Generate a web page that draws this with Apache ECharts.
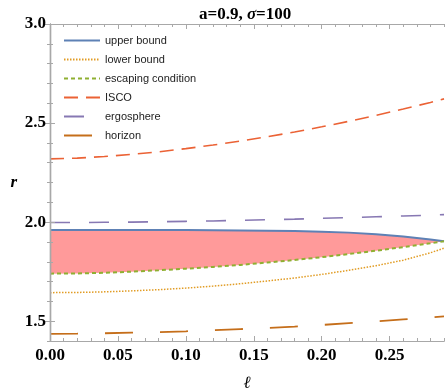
<!DOCTYPE html>
<html>
<head>
<meta charset="utf-8">
<script src="https://cdn.jsdelivr.net/npm/echarts@6/dist/echarts.min.js"></script>
<style>
html, body { margin: 0; padding: 0; background: #fff; }
#chart { width: 445px; height: 389px; }
</style>
</head>
<body>
<div id="chart"></div>
<script>
// sample points along ℓ
const ell = [0, 0.02, 0.04, 0.06, 0.08, 0.10, 0.12, 0.14, 0.16, 0.18, 0.20, 0.22, 0.24, 0.26, 0.28, 0.29];

// curves
const upperBound = [1.960, 1.960, 1.960, 1.960, 1.960, 1.960, 1.959, 1.958, 1.957, 1.955, 1.952, 1.947, 1.939, 1.927, 1.912, 1.903];
const lowerBound = [1.644, 1.645, 1.648, 1.653, 1.659, 1.667, 1.677, 1.689, 1.703, 1.718, 1.736, 1.757, 1.780, 1.808, 1.845, 1.869];
const escaping   = [1.740, 1.741, 1.744, 1.750, 1.757, 1.765, 1.774, 1.784, 1.796, 1.809, 1.823, 1.839, 1.856, 1.874, 1.893, 1.903];
const isco       = [2.319, 2.323, 2.331, 2.342, 2.355, 2.371, 2.389, 2.409, 2.431, 2.455, 2.481, 2.509, 2.539, 2.571, 2.604, 2.622];
const ergosphere = [1.998, 1.998, 1.999, 2.000, 2.002, 2.004, 2.006, 2.009, 2.012, 2.015, 2.019, 2.023, 2.027, 2.031, 2.035, 2.038];
const horizon    = [1.436, 1.437, 1.439, 1.442, 1.445, 1.449, 1.454, 1.460, 1.466, 1.473, 1.481, 1.490, 1.499, 1.509, 1.519, 1.524];

// ticks
const xMajorTicks = [0, 0.05, 0.10, 0.15, 0.20, 0.25];
const yMajorTicks = [1.5, 2.0, 2.5, 3.0];

const X_MIN = 0, X_MAX = 0.29;
const Y_MIN = 1.4, Y_MAX = 3.0;

function minorTicks(from, to, step, majors) {
    const out = [];
    for (let i = 0; from + i * step <= to + 1e-9; i++) {
        const v = +(from + i * step).toFixed(4);
        if (!majors.some(m => Math.abs(m - v) < 1e-9)) out.push(v);
    }
    return out;
}
const xMinorTicks = minorTicks(X_MIN, X_MAX, 0.01, xMajorTicks);
const yMinorTicks = minorTicks(Y_MIN, Y_MAX, 0.1, yMajorTicks);

const frameColor = '#a8a8a8';
const serifBold = { fontFamily: 'Liberation Serif', fontWeight: 'bold', color: '#000' };

function frameAxis(position, min, max, ticks, len, label) {
    return {
        type: 'value',
        position: position,
        min: min,
        max: max,
        z: 5,
        splitLine: { show: false },
        axisLine: { show: true, lineStyle: { color: frameColor, width: 1.2 } },
        axisTick: { show: true, inside: true, length: len, customValues: ticks,
                    lineStyle: { color: frameColor, width: 1 } },
        axisLabel: label ? label : { show: false }
    };
}

const xAxes = [
    Object.assign(frameAxis('bottom', X_MIN, X_MAX, xMajorTicks, 5, {
        show: true, customValues: xMajorTicks, margin: 6,
        formatter: v => v.toFixed(2),
        fontSize: 17, ...serifBold
    }), {
        name: 'ℓ', nameLocation: 'middle', nameGap: 34,
        nameTextStyle: { fontFamily: 'Liberation Serif', fontStyle: 'italic', fontSize: 17, color: '#000' }
    }),
    frameAxis('bottom', X_MIN, X_MAX, xMinorTicks, 3),
    frameAxis('top', X_MIN, X_MAX, xMajorTicks, 5),
    frameAxis('top', X_MIN, X_MAX, xMinorTicks, 3)
];

const yAxes = [
    Object.assign(frameAxis('left', Y_MIN, Y_MAX, yMajorTicks, 5, {
        show: true, customValues: yMajorTicks, margin: 4,
        formatter: v => v.toFixed(1),
        fontSize: 17, ...serifBold
    }), {
        name: 'r', nameLocation: 'middle', nameGap: 33, nameRotate: 0,
        nameTextStyle: { fontFamily: 'Liberation Serif', fontStyle: 'italic', fontWeight: 'bold', fontSize: 17, color: '#000' }
    }),
    frameAxis('left', Y_MIN, Y_MAX, yMinorTicks, 3),
    frameAxis('right', Y_MIN, Y_MAX, yMajorTicks, 5),
    frameAxis('right', Y_MIN, Y_MAX, yMinorTicks, 3)
];

function pairs(ys) {
    return ell.map((x, i) => [x, ys[i]]);
}

function curve(name, ys, color, type, width) {
    return {
        name: name,
        type: 'line',
        data: pairs(ys),
        symbol: 'none',
        smooth: false,
        lineStyle: { color: color, type: type, width: width },
        itemStyle: { color: color },
        z: 3
    };
}

// region between the upper bound and the escaping condition
const bandSeries = {
    name: 'band',
    type: 'custom',
    silent: true,
    z: 1,
    data: pairs(upperBound),
    renderItem: function (params, api) {
        if (params.dataIndex !== 0) return null;
        const top = ell.map((x, i) => api.coord([x, upperBound[i]]));
        const bottom = ell.map((x, i) => api.coord([x, escaping[i]])).reverse();
        return {
            type: 'polygon',
            shape: { points: top.concat(bottom) },
            style: { fill: '#ff9a9a', stroke: null }
        };
    }
};

const chart = echarts.init(document.getElementById('chart'));
chart.setOption({
    animation: false,
    title: {
        text: '{n|a=0.9, }{s|σ}{n|=100}',
        left: 194,
        top: 1,
        textStyle: {
            rich: {
                n: { fontFamily: 'Liberation Serif', fontWeight: 'bold', fontSize: 17, color: '#000' },
                s: { fontFamily: 'Liberation Serif', fontWeight: 'bold', fontStyle: 'italic', fontSize: 17, color: '#000' }
            }
        }
    },
    legend: {
        data: ['upper bound', 'lower bound', 'escaping condition', 'ISCO', 'ergosphere', 'horizon'],
        orient: 'vertical',
        left: 63,
        top: 35,
        padding: 0,
        itemWidth: 36,
        itemHeight: 12,
        itemGap: 8,
        itemStyle: { opacity: 0 },
        textStyle: { fontFamily: 'Liberation Sans', fontSize: 11, color: '#222' }
    },
    grid: { left: 50, right: 1, top: 24, bottom: 48, containLabel: false, outerBoundsMode: 'none' },
    xAxis: xAxes,
    yAxis: yAxes,
    series: [
        bandSeries,
        curve('upper bound', upperBound, '#5e81b5', 'solid', 2),
        curve('lower bound', lowerBound, '#e19c24', [1.5, 1.5], 1.5),
        curve('escaping condition', escaping, '#8fb032', [4, 3], 2),
        curve('ISCO', isco, '#eb6235', [14, 8], 1.6),
        curve('ergosphere', ergosphere, '#8778b3', [20, 19], 1.6),
        curve('horizon', horizon, '#c56e1a', [28, 27], 1.8)
    ]
});
</script>
</body>
</html>
